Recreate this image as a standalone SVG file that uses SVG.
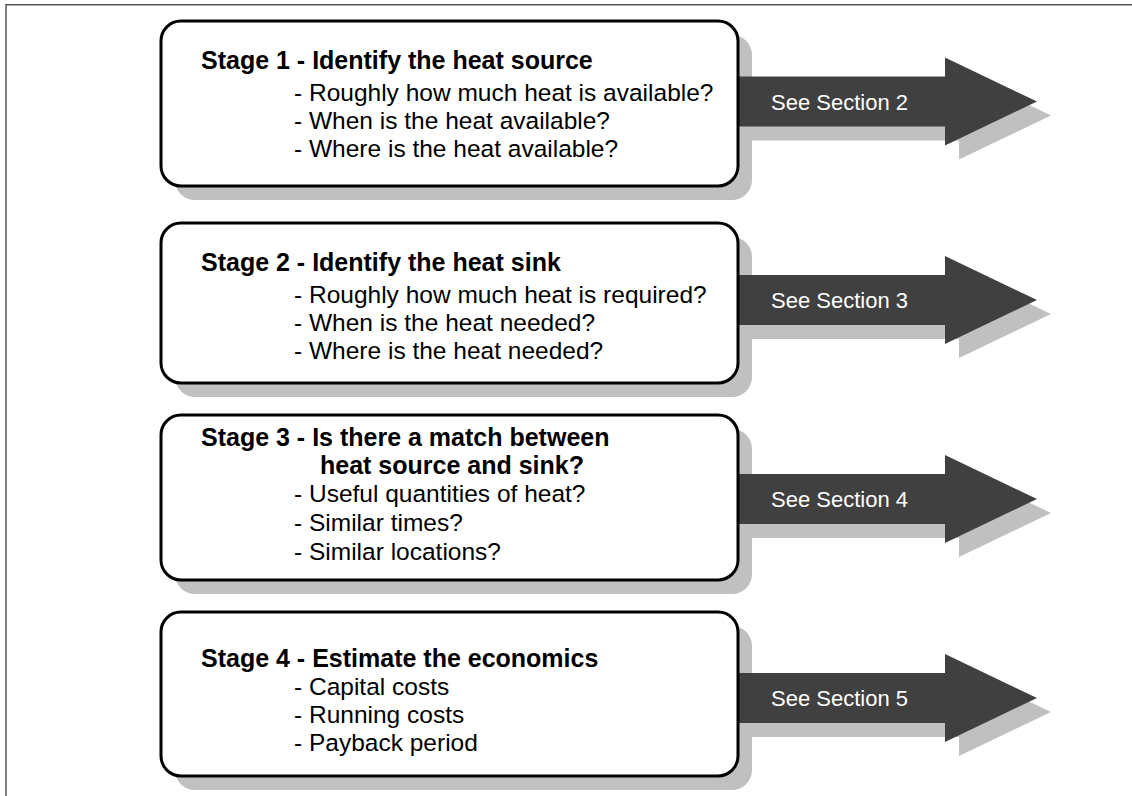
<svg xmlns="http://www.w3.org/2000/svg" width="1132" height="796" viewBox="0 0 1132 796">
<style>
.frame{fill:none;stroke:#555;stroke-width:1.5}
.shadow{fill:#c0c0c0}
.box{fill:#fff;stroke:#000;stroke-width:3}
.arrow{fill:#404040}
.hd{font-family:"Liberation Sans",Arial,sans-serif;font-weight:bold;font-size:25px;fill:#000}
.ln{font-family:"Liberation Sans",Arial,sans-serif;font-size:24.5px;fill:#000}
.lab{font-family:"Liberation Sans",Arial,sans-serif;font-size:22px;fill:#fff}
</style>
<rect width="1132" height="796" fill="#fff"/>
<path class="frame" d="M6 796 V4.75 H1132"/>
<g id="shadows">
<rect class="shadow" x="175" y="35" width="577" height="165" rx="20"/>
<polygon class="shadow" points="752,90.5 959,90.5 959,71.5 1051,115.5 959,159.5 959,140.5 752,140.5"/>
<rect class="shadow" x="175" y="237" width="577" height="160" rx="20"/>
<polygon class="shadow" points="752,289 959,289 959,270 1051,314 959,358 959,339 752,339"/>
<rect class="shadow" x="175" y="429" width="577" height="165" rx="20"/>
<polygon class="shadow" points="752,488 959,488 959,469 1051,513 959,557 959,538 752,538"/>
<rect class="shadow" x="175" y="626" width="577" height="164" rx="20"/>
<polygon class="shadow" points="752,687 959,687 959,668 1051,712 959,756 959,737 752,737"/>
</g>
<g id="arrow1">
<polygon class="arrow" points="735,76.5 945,76.5 945,57.5 1037,101.5 945,145.5 945,126.5 735,126.5"/>
<text class="lab" x="771" y="110">See Section 2</text>
</g>
<g id="arrow2">
<polygon class="arrow" points="735,275 945,275 945,256 1037,300 945,344 945,325 735,325"/>
<text class="lab" x="771" y="308">See Section 3</text>
</g>
<g id="arrow3">
<polygon class="arrow" points="735,474 945,474 945,455 1037,499 945,543 945,524 735,524"/>
<text class="lab" x="771" y="507">See Section 4</text>
</g>
<g id="arrow4">
<polygon class="arrow" points="735,673 945,673 945,654 1037,698 945,742 945,723 735,723"/>
<text class="lab" x="771" y="706">See Section 5</text>
</g>
<g id="stage1">
<rect class="box" x="161" y="21" width="577" height="165" rx="20"/>
<text class="hd" x="201" y="69">Stage 1 - Identify the heat source</text>
<text class="ln" x="294" y="101">- Roughly how much heat is available?</text>
<text class="ln" x="294" y="129">- When is the heat available?</text>
<text class="ln" x="294" y="157">- Where is the heat available?</text>
</g>
<g id="stage2">
<rect class="box" x="161" y="223" width="577" height="160" rx="20"/>
<text class="hd" x="201" y="271">Stage 2 - Identify the heat sink</text>
<text class="ln" x="294" y="303">- Roughly how much heat is required?</text>
<text class="ln" x="294" y="331">- When is the heat needed?</text>
<text class="ln" x="294" y="359">- Where is the heat needed?</text>
</g>
<g id="stage3">
<rect class="box" x="161" y="415" width="577" height="165" rx="20"/>
<text class="hd" x="201" y="446">Stage 3 - Is there a match between</text>
<text class="hd" x="320" y="474">heat source and sink?</text>
<text class="ln" x="294" y="502">- Useful quantities of heat?</text>
<text class="ln" x="294" y="531">- Similar times?</text>
<text class="ln" x="294" y="560">- Similar locations?</text>
</g>
<g id="stage4">
<rect class="box" x="161" y="612" width="577" height="164" rx="20"/>
<text class="hd" x="201" y="667">Stage 4 - Estimate the economics</text>
<text class="ln" x="294" y="695">- Capital costs</text>
<text class="ln" x="294" y="723">- Running costs</text>
<text class="ln" x="294" y="751">- Payback period</text>
</g>
</svg>
